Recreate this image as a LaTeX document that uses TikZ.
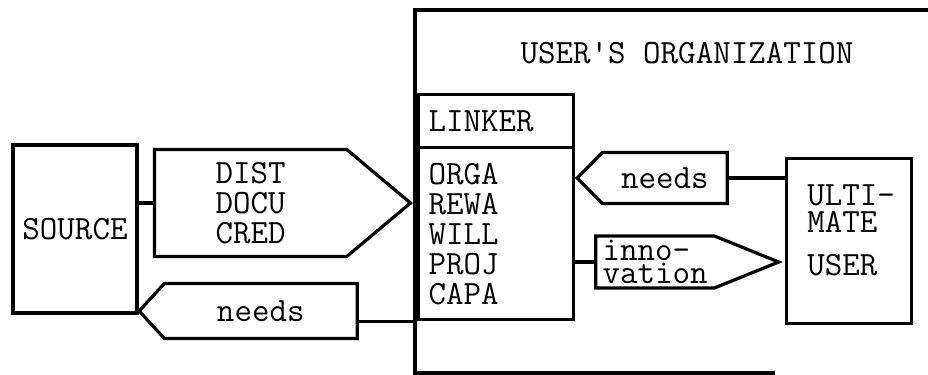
\documentclass[tikz,border=0pt]{standalone}
\usepackage{fontspec}
\usetikzlibrary{positioning,shapes.symbols,calc}

\begin{document}
\begin{tikzpicture}[x=0.5pt,y=-0.5pt,
  every node/.style={font=\ttfamily\fontsize{17}{15}\selectfont},
  box/.style={draw,line width=1.6pt,inner sep=0pt},
  tag/.style={draw,line width=1.6pt,signal,inner sep=0pt,align=center},
  link/.style={line width=1.6pt}]
\useasboundingbox (0,0) rectangle (928,375);
% organization frame (open on the right)
\draw[link] (928,10) -- (415,10) -- (415,373) -- (775,373);
\node (org) at (687,53) {USER'S ORGANIZATION};
% source side
\node[box,minimum width=62pt,minimum height=84pt] (source) at (75,229) {SOURCE};
\node[tag,signal to=east,signal pointer angle=80,minimum width=128pt,minimum height=53.5pt,anchor=east] (dist) at (413,203) {DIST\\DOCU\\CRED};
\node[tag,signal to=west,signal pointer angle=95,minimum width=109pt,minimum height=27.5pt,anchor=west] (needsB) at (137,311) {needs};
% linker
\node[box,minimum width=77.5pt,minimum height=26.5pt,anchor=north west,text width=67.5pt,align=left,inner xsep=5pt] (linkhead) at (417,93) {LINKER};
\node[box,minimum width=77.5pt,minimum height=86pt,anchor=north west,text width=67.5pt,align=left,inner xsep=5pt] (linker) at (417,146) {ORGA\\REWA\\WILL\\PROJ\\CAPA};
% user side
\node[tag,signal to=west,signal pointer angle=91,minimum width=75pt,minimum height=25.5pt,anchor=west] (needsA) at (575,178) {needs};
\node[tag,signal to=east,signal pointer angle=44,minimum width=91.5pt,minimum height=26pt,anchor=east,font=\ttfamily\fontsize{17}{10}\selectfont,align=left] (innov) at (783,262) {inno-\\vation};
\node[box,minimum width=62.5pt,minimum height=82.5pt,anchor=north west] (ultimate) at (785,157) {};
\node[anchor=north west,inner sep=0pt,align=left] (ulabel) at (807,184) {ULTI-\\[-1.5pt]MATE\\[6.5pt]USER};
% connectors
\draw[link] (source.east |- dist.west) -- (dist.west);
\draw[link] (needsB.east |- linker.south west) -- (linker.south west);
\draw[link] (needsA.east) -- (needsA.east -| ultimate.west);
\draw[link] (linker.east |- innov.west) -- (innov.west);
\end{tikzpicture}
\end{document}
